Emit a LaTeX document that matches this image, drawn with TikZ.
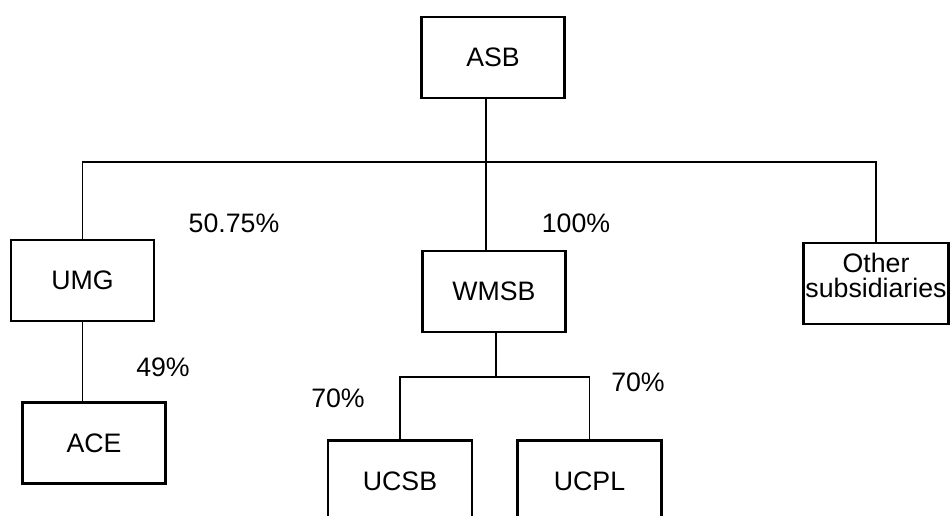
\documentclass[tikz,border=0pt]{standalone}
\usepackage{fontspec}
\setmainfont{Liberation Sans}
\begin{document}
\begin{tikzpicture}[x=0.1mm, y=-0.1mm, line width=0.55pt,
		box/.style={draw, line width=0.65pt, minimum width=14.3mm, minimum height=8.1mm, inner sep=0pt, align=center, font=\fontsize{7.6}{7.1}\selectfont},
		pct/.style={font=\fontsize{7.6}{9}\selectfont}]
			\useasboundingbox (0,0) rectangle (952,515);
			\clip (0,0) rectangle (952,515);

			% Компании
			\node[box] (asb) at (493,57.5) {ASB};
			\node[box] (umg) at (82.5,280.5) {UMG};
			\node[box] (ace) at (94,443) {ACE};
			\node[box] (wmsb) at (494,291.5) {WMSB};
			\node[box, minimum width=14.5mm] (other) at (876,283.5) {Other\\subsidiaries\rule[-1.6mm]{0pt}{0pt}};
			\node[box, minimum width=14.4mm] (ucsb) at (400,481) {UCSB};
			\node[box, minimum width=14.4mm] (ucpl) at (589.5,481) {UCPL};

			% Точки ветвления
			\coordinate (hub) at (486,162);
			\coordinate (split) at (496,377);

			% Линии
			\draw (asb.south -| hub) -- (wmsb.north -| hub);
			\draw (umg.north) -- (umg.north |- hub) -- (other.north |- hub) -- (other.north);
			\draw (umg.south) -- (umg.south |- ace.north);
			\draw (wmsb.south -| split) -- (split);
			\draw (ucsb.north) -- (ucsb.north |- split) -- (ucpl.north |- split) -- (ucpl.north);

			% Доли
			\node[pct] (p1) at (234,223) {50.75\%};
			\node[pct] (p2) at (576,223) {100\%};
			\node[pct] (p3) at (163,367) {49\%};
			\node[pct] (p4) at (338,398) {70\%};
			\node[pct] (p5) at (638,382) {70\%};
		\end{tikzpicture}
\end{document}
